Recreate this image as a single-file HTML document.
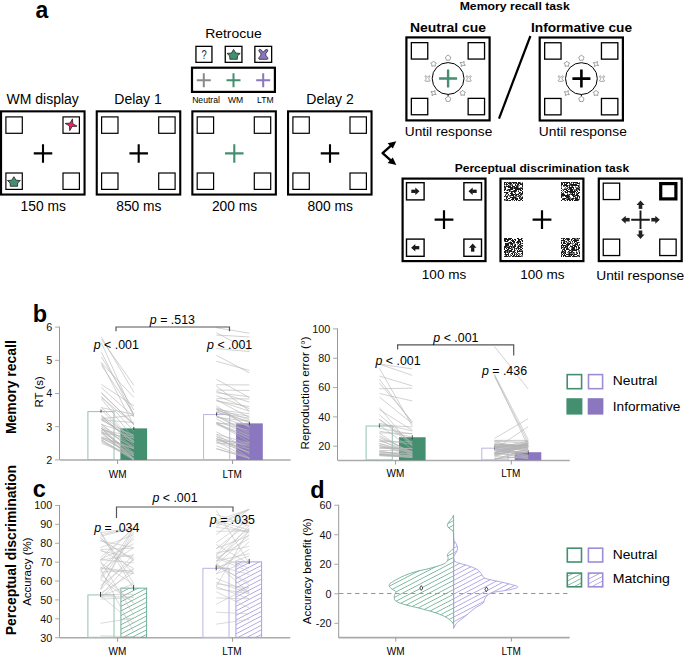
<!DOCTYPE html>
<html><head><meta charset="utf-8"><style>
html,body{margin:0;padding:0;background:#fff;}
svg{display:block;}
text{font-family:"Liberation Sans",sans-serif;}
</style></head><body>
<svg width="685" height="663" viewBox="0 0 685 663">
<defs>
<pattern id="hg" patternUnits="userSpaceOnUse" width="8" height="4.6" patternTransform="skewY(-27.5)"><line x1="0" y1="2.3" x2="8" y2="2.3" stroke="#6fb096" stroke-width="0.8"/></pattern>
<pattern id="hp" patternUnits="userSpaceOnUse" width="8" height="4.6" patternTransform="skewY(-27.5)"><line x1="0" y1="2.3" x2="8" y2="2.3" stroke="#ab9fe0" stroke-width="0.8"/></pattern>
</defs>
<text x="35.4" y="18.1" font-size="23" text-anchor="start" font-weight="bold" fill="#000" >a</text>
<text x="233.4" y="37.7" font-size="13" text-anchor="middle" font-weight="normal" fill="#000" textLength="56.5" lengthAdjust="spacingAndGlyphs" >Retrocue</text>
<rect x="195.95" y="46.35" width="16" height="16" fill="none" stroke="#000" stroke-width="1.3" />
<text x="204" y="58.6" font-size="12.5" text-anchor="middle" font-weight="normal" fill="#222" textLength="5.2" lengthAdjust="spacingAndGlyphs" >?</text>
<rect x="225.25" y="46.35" width="16.7" height="16" fill="none" stroke="#000" stroke-width="1.3" />
<rect x="254.85" y="46.35" width="16.8" height="16" fill="none" stroke="#000" stroke-width="1.3" />
<path transform="translate(233.6 54.5) scale(1.0)" d="M0 -5L2.2 -1.4L6.6 -1.1L3.9 1.4L3.7 4.8L-3.7 4.8L-3.9 1.4L-6.6 -1.1L-2.2 -1.4Z" fill="#438f70" stroke="#222" stroke-width="0.8" stroke-linejoin="round"/>
<path transform="translate(263.3 54.4) scale(1.0)" d="M0 -2.1C1 -3.5 2.5 -5.3 3.8 -5C5 -4.6 4.5 -2.8 2.6 -1.2C2.2 0 2.3 1 3.6 2.3C4.8 3.4 4.9 4.5 4 4.9L-4 4.9C-4.9 4.5 -4.8 3.4 -3.6 2.3C-2.3 1 -2.2 0 -2.6 -1.2C-4.5 -2.8 -5 -4.6 -3.8 -5C-2.5 -5.3 -1 -3.5 0 -2.1Z" fill="#8b76c0" stroke="#222" stroke-width="0.8" stroke-linejoin="round"/>
<rect x="192" y="67.7" width="82.9" height="24.2" fill="none" stroke="#000" stroke-width="2.2" />
<path d="M196.8 80.2H210.8M203.8 73.2V87.2" stroke="#8a8a8a" stroke-width="2" fill="none"/>
<path d="M226.5 80.2H240.5M233.5 73.2V87.2" stroke="#438f70" stroke-width="2" fill="none"/>
<path d="M256.2 80.2H270.2M263.2 73.2V87.2" stroke="#8b76c0" stroke-width="2" fill="none"/>
<text x="206" y="102.7" font-size="8.6" text-anchor="middle" font-weight="normal" fill="#000" >Neutral</text>
<text x="235.6" y="102.7" font-size="8.6" text-anchor="middle" font-weight="normal" fill="#000" >WM</text>
<text x="265.4" y="102.7" font-size="8.6" text-anchor="middle" font-weight="normal" fill="#000" >LTM</text>
<text x="42.7" y="104.4" font-size="14" text-anchor="middle" font-weight="normal" fill="#000" >WM display</text>
<text x="138" y="104.4" font-size="14" text-anchor="middle" font-weight="normal" fill="#000" >Delay 1</text>
<text x="330" y="104.4" font-size="14" text-anchor="middle" font-weight="normal" fill="#000" >Delay 2</text>
<rect x="1.05" y="111.35" width="83.5" height="83.2" fill="none" stroke="#000" stroke-width="2.1" />
<rect x="5.9" y="116.9" width="16.4" height="16.4" fill="none" stroke="#000" stroke-width="1.2" />
<rect x="63" y="116.9" width="16.4" height="16.4" fill="none" stroke="#000" stroke-width="1.2" />
<rect x="5.9" y="173" width="16.4" height="16.4" fill="none" stroke="#000" stroke-width="1.2" />
<rect x="63" y="173" width="16.4" height="16.4" fill="none" stroke="#000" stroke-width="1.2" />
<path d="M33.75 153.4H52.25M43 144.15V162.65" stroke="#000" stroke-width="2.1" fill="none"/>
<rect x="96.75" y="111.35" width="83.5" height="83.2" fill="none" stroke="#000" stroke-width="2.1" />
<rect x="101.6" y="116.9" width="16.4" height="16.4" fill="none" stroke="#000" stroke-width="1.2" />
<rect x="158.7" y="116.9" width="16.4" height="16.4" fill="none" stroke="#000" stroke-width="1.2" />
<rect x="101.6" y="173" width="16.4" height="16.4" fill="none" stroke="#000" stroke-width="1.2" />
<rect x="158.7" y="173" width="16.4" height="16.4" fill="none" stroke="#000" stroke-width="1.2" />
<path d="M129.45 153.4H147.95M138.7 144.15V162.65" stroke="#000" stroke-width="2.1" fill="none"/>
<rect x="192.35" y="111.35" width="83.5" height="83.2" fill="none" stroke="#000" stroke-width="2.1" />
<rect x="197.2" y="116.9" width="16.4" height="16.4" fill="none" stroke="#000" stroke-width="1.2" />
<rect x="254.3" y="116.9" width="16.4" height="16.4" fill="none" stroke="#000" stroke-width="1.2" />
<rect x="197.2" y="173" width="16.4" height="16.4" fill="none" stroke="#000" stroke-width="1.2" />
<rect x="254.3" y="173" width="16.4" height="16.4" fill="none" stroke="#000" stroke-width="1.2" />
<path d="M225.05 153.4H243.55M234.3 144.15V162.65" stroke="#438f70" stroke-width="2.1" fill="none"/>
<rect x="288.05" y="111.35" width="83.5" height="83.2" fill="none" stroke="#000" stroke-width="2.1" />
<rect x="292.9" y="116.9" width="16.4" height="16.4" fill="none" stroke="#000" stroke-width="1.2" />
<rect x="350" y="116.9" width="16.4" height="16.4" fill="none" stroke="#000" stroke-width="1.2" />
<rect x="292.9" y="173" width="16.4" height="16.4" fill="none" stroke="#000" stroke-width="1.2" />
<rect x="350" y="173" width="16.4" height="16.4" fill="none" stroke="#000" stroke-width="1.2" />
<path d="M320.75 153.4H339.25M330 144.15V162.65" stroke="#000" stroke-width="2.1" fill="none"/>
<path transform="translate(13.9 181.6) scale(0.98)" d="M0 -5L2.2 -1.4L6.6 -1.1L3.9 1.4L3.7 4.8L-3.7 4.8L-3.9 1.4L-6.6 -1.1L-2.2 -1.4Z" fill="#438f70" stroke="#222" stroke-width="0.82" stroke-linejoin="round"/>
<path d="M72.47 118.86L72.8 123.74L77.04 126.17L72.16 126.5L69.73 130.74L69.4 125.86L65.16 123.43L70.04 123.1Z" fill="#e8246c" stroke="#222" stroke-width="0.8" stroke-linejoin="round"/>
<text x="43.2" y="210.8" font-size="13.8" text-anchor="middle" font-weight="normal" fill="#000" >150 ms</text>
<text x="138.9" y="210.8" font-size="13.8" text-anchor="middle" font-weight="normal" fill="#000" >850 ms</text>
<text x="234.5" y="210.8" font-size="13.8" text-anchor="middle" font-weight="normal" fill="#000" >200 ms</text>
<text x="330.2" y="210.8" font-size="13.8" text-anchor="middle" font-weight="normal" fill="#000" >800 ms</text>
<path d="M393 143.8L382.6 153.1L393 162.4" fill="none" stroke="#000" stroke-width="2.4" stroke-linejoin="round"/>
<path d="M396.3 141.3L387.6 143.2L392.8 148.6Z" fill="#000"/>
<path d="M396.3 164.9L387.6 163L392.8 157.6Z" fill="#000"/>
<text x="514.7" y="9.5" font-size="11.5" text-anchor="middle" font-weight="bold" fill="#000" textLength="110" lengthAdjust="spacingAndGlyphs" >Memory recall task</text>
<text x="448" y="31.6" font-size="13" text-anchor="middle" font-weight="bold" fill="#000" textLength="76" lengthAdjust="spacingAndGlyphs" >Neutral cue</text>
<text x="581.5" y="31.6" font-size="13" text-anchor="middle" font-weight="bold" fill="#000" textLength="101" lengthAdjust="spacingAndGlyphs" >Informative cue</text>
<line x1="530.4" y1="36" x2="499" y2="118.6" stroke="#000" stroke-width="2.2" />
<rect x="406.4" y="37.4" width="83.2" height="83" fill="none" stroke="#000" stroke-width="2.2" />
<rect x="411.35" y="42.65" width="16.4" height="16.4" fill="none" stroke="#000" stroke-width="1.3" />
<rect x="468.15" y="42.65" width="16.4" height="16.4" fill="none" stroke="#000" stroke-width="1.3" />
<rect x="411.35" y="98.35" width="16.4" height="16.4" fill="none" stroke="#000" stroke-width="1.3" />
<rect x="468.15" y="98.35" width="16.4" height="16.4" fill="none" stroke="#000" stroke-width="1.3" />
<circle cx="448.1" cy="78.5" r="15.9" fill="none" stroke="#000" stroke-width="1"/>
<path d="M439.1 78.5H457.1M448.1 69.5V87.5" stroke="#438f70" stroke-width="2.4" fill="none"/>
<path transform="translate(468.7 78.5) scale(0.55)" d="M0 -2.1C1 -3.5 2.5 -5.3 3.8 -5C5 -4.6 4.5 -2.8 2.6 -1.2C2.2 0 2.3 1 3.6 2.3C4.8 3.4 4.9 4.5 4 4.9L-4 4.9C-4.9 4.5 -4.8 3.4 -3.6 2.3C-2.3 1 -2.2 0 -2.6 -1.2C-4.5 -2.8 -5 -4.6 -3.8 -5C-2.5 -5.3 -1 -3.5 0 -2.1Z" fill="#fff" stroke="#777" stroke-width="1.27" stroke-linejoin="round"/>
<path d="M462.67 90.17L463.78 91.53L465.42 92.17L464.47 93.65L464.37 95.41L462.67 94.97L460.96 95.41L460.86 93.65L459.91 92.17L461.55 91.53Z" fill="#fff" stroke="#777" stroke-width="0.7" stroke-linejoin="round"/>
<path d="M448.1 96.3L449.45 97.24L450.76 98.23L450.29 99.81L449.75 101.37L448.1 101.4L446.45 101.37L445.91 99.81L445.44 98.23L446.75 97.24Z" fill="#fff" stroke="#777" stroke-width="0.7" stroke-linejoin="round"/>
<path d="M435.03 90.47L434.89 92.7L436.13 94.57L433.9 94.42L432.03 95.66L432.18 93.43L430.94 91.57L433.17 91.71Z" fill="#fff" stroke="#777" stroke-width="0.7" stroke-linejoin="round"/>
<path transform="translate(427.5 78.5) scale(0.55)" d="M0 -2.1C1 -3.5 2.5 -5.3 3.8 -5C5 -4.6 4.5 -2.8 2.6 -1.2C2.2 0 2.3 1 3.6 2.3C4.8 3.4 4.9 4.5 4 4.9L-4 4.9C-4.9 4.5 -4.8 3.4 -3.6 2.3C-2.3 1 -2.2 0 -2.6 -1.2C-4.5 -2.8 -5 -4.6 -3.8 -5C-2.5 -5.3 -1 -3.5 0 -2.1Z" fill="#fff" stroke="#777" stroke-width="1.27" stroke-linejoin="round"/>
<path d="M433.53 61.03L434.65 62.4L436.29 63.04L435.34 64.52L435.24 66.28L433.53 65.83L431.83 66.28L431.73 64.52L430.78 63.04L432.42 62.4Z" fill="#fff" stroke="#777" stroke-width="0.7" stroke-linejoin="round"/>
<path d="M448.1 55.1L449.45 56.04L450.76 57.03L450.29 58.61L449.75 60.17L448.1 60.2L446.45 60.17L445.91 58.61L445.44 57.03L446.75 56.04Z" fill="#fff" stroke="#777" stroke-width="0.7" stroke-linejoin="round"/>
<path d="M464.17 61.34L464.02 63.57L465.26 65.43L463.03 65.29L461.17 66.53L461.31 64.3L460.07 62.43L462.3 62.58Z" fill="#fff" stroke="#777" stroke-width="0.7" stroke-linejoin="round"/>
<line x1="448.1" y1="94.4" x2="448.1" y2="96.1" stroke="#000" stroke-width="1" />
<rect x="539.7" y="37.5" width="83.2" height="83" fill="none" stroke="#000" stroke-width="2.2" />
<rect x="544.65" y="42.75" width="16.4" height="16.4" fill="none" stroke="#000" stroke-width="1.3" />
<rect x="601.45" y="42.75" width="16.4" height="16.4" fill="none" stroke="#000" stroke-width="1.3" />
<rect x="544.65" y="98.45" width="16.4" height="16.4" fill="none" stroke="#000" stroke-width="1.3" />
<rect x="601.45" y="98.45" width="16.4" height="16.4" fill="none" stroke="#000" stroke-width="1.3" />
<circle cx="581.4" cy="78.6" r="15.9" fill="none" stroke="#000" stroke-width="1"/>
<path d="M572.4 78.6H590.4M581.4 69.6V87.6" stroke="#000" stroke-width="2.6" fill="none"/>
<path transform="translate(602 78.6) scale(0.55)" d="M0 -2.1C1 -3.5 2.5 -5.3 3.8 -5C5 -4.6 4.5 -2.8 2.6 -1.2C2.2 0 2.3 1 3.6 2.3C4.8 3.4 4.9 4.5 4 4.9L-4 4.9C-4.9 4.5 -4.8 3.4 -3.6 2.3C-2.3 1 -2.2 0 -2.6 -1.2C-4.5 -2.8 -5 -4.6 -3.8 -5C-2.5 -5.3 -1 -3.5 0 -2.1Z" fill="#fff" stroke="#777" stroke-width="1.27" stroke-linejoin="round"/>
<path d="M595.97 90.27L597.08 91.63L598.72 92.27L597.77 93.75L597.67 95.51L595.97 95.07L594.26 95.51L594.16 93.75L593.21 92.27L594.85 91.63Z" fill="#fff" stroke="#777" stroke-width="0.7" stroke-linejoin="round"/>
<path d="M581.4 96.4L582.75 97.34L584.06 98.33L583.59 99.91L583.05 101.47L581.4 101.5L579.75 101.47L579.21 99.91L578.74 98.33L580.05 97.34Z" fill="#fff" stroke="#777" stroke-width="0.7" stroke-linejoin="round"/>
<path d="M568.33 90.57L568.19 92.8L569.43 94.67L567.2 94.52L565.33 95.76L565.48 93.53L564.24 91.67L566.47 91.81Z" fill="#fff" stroke="#777" stroke-width="0.7" stroke-linejoin="round"/>
<path transform="translate(560.8 78.6) scale(0.55)" d="M0 -2.1C1 -3.5 2.5 -5.3 3.8 -5C5 -4.6 4.5 -2.8 2.6 -1.2C2.2 0 2.3 1 3.6 2.3C4.8 3.4 4.9 4.5 4 4.9L-4 4.9C-4.9 4.5 -4.8 3.4 -3.6 2.3C-2.3 1 -2.2 0 -2.6 -1.2C-4.5 -2.8 -5 -4.6 -3.8 -5C-2.5 -5.3 -1 -3.5 0 -2.1Z" fill="#fff" stroke="#777" stroke-width="1.27" stroke-linejoin="round"/>
<path d="M566.83 61.13L567.95 62.5L569.59 63.14L568.64 64.62L568.54 66.38L566.83 65.93L565.13 66.38L565.03 64.62L564.08 63.14L565.72 62.5Z" fill="#fff" stroke="#777" stroke-width="0.7" stroke-linejoin="round"/>
<path d="M581.4 55.2L582.75 56.14L584.06 57.13L583.59 58.71L583.05 60.27L581.4 60.3L579.75 60.27L579.21 58.71L578.74 57.13L580.05 56.14Z" fill="#fff" stroke="#777" stroke-width="0.7" stroke-linejoin="round"/>
<path d="M597.47 61.44L597.32 63.67L598.56 65.53L596.33 65.39L594.47 66.63L594.61 64.4L593.37 62.53L595.6 62.68Z" fill="#fff" stroke="#777" stroke-width="0.7" stroke-linejoin="round"/>
<line x1="581.4" y1="94.5" x2="581.4" y2="96.2" stroke="#000" stroke-width="1" />
<text x="448.5" y="135.9" font-size="13.5" text-anchor="middle" font-weight="normal" fill="#000" textLength="87.5" lengthAdjust="spacingAndGlyphs" >Until response</text>
<text x="582.8" y="135.9" font-size="13.5" text-anchor="middle" font-weight="normal" fill="#000" textLength="88" lengthAdjust="spacingAndGlyphs" >Until response</text>
<text x="541.9" y="171.6" font-size="11.5" text-anchor="middle" font-weight="bold" fill="#000" textLength="174.4" lengthAdjust="spacingAndGlyphs" >Perceptual discrimination task</text>
<rect x="402.6" y="178.6" width="82.9" height="82.5" fill="none" stroke="#000" stroke-width="2.2" />
<rect x="500.5" y="178.6" width="82.9" height="82.5" fill="none" stroke="#000" stroke-width="2.2" />
<rect x="598.8" y="178.6" width="82.9" height="82.5" fill="none" stroke="#000" stroke-width="2.2" />
<rect x="406.5" y="182.7" width="17.6" height="17.2" fill="none" stroke="#000" stroke-width="1.4" />
<g transform="translate(415.3 191.3) rotate(0)"><path d="M-4 0H0.5" stroke="#1a1a1a" stroke-width="3.3"/><path d="M4.2 0L0 -3.8L0 3.8Z" fill="#1a1a1a"/></g>
<rect x="463.9" y="182.7" width="17.6" height="17.2" fill="none" stroke="#000" stroke-width="1.4" />
<g transform="translate(472.7 191.3) rotate(180)"><path d="M-4 0H0.5" stroke="#1a1a1a" stroke-width="3.3"/><path d="M4.2 0L0 -3.8L0 3.8Z" fill="#1a1a1a"/></g>
<rect x="406.5" y="239.1" width="17.6" height="17.2" fill="none" stroke="#000" stroke-width="1.4" />
<g transform="translate(415.3 247.7) rotate(180)"><path d="M-4 0H0.5" stroke="#1a1a1a" stroke-width="3.3"/><path d="M4.2 0L0 -3.8L0 3.8Z" fill="#1a1a1a"/></g>
<rect x="463.9" y="239.1" width="17.6" height="17.2" fill="none" stroke="#000" stroke-width="1.4" />
<g transform="translate(472.7 247.7) rotate(-90)"><path d="M-4 0H0.5" stroke="#1a1a1a" stroke-width="3.3"/><path d="M4.2 0L0 -3.8L0 3.8Z" fill="#1a1a1a"/></g>
<path d="M434.6 219.6H453.4M444 210.2V229" stroke="#000" stroke-width="2.2" fill="none"/>
<path d="M504 182h1v1h-1zM505 182h1v1h-1zM507 182h1v1h-1zM509 182h1v1h-1zM510 182h1v1h-1zM512 182h1v1h-1zM513 182h1v1h-1zM514 182h1v1h-1zM515 182h1v1h-1zM516 182h1v1h-1zM518 182h1v1h-1zM519 182h1v1h-1zM504 183h1v1h-1zM506 183h1v1h-1zM508 183h1v1h-1zM509 183h1v1h-1zM510 183h1v1h-1zM511 183h1v1h-1zM513 183h1v1h-1zM516 183h1v1h-1zM518 183h1v1h-1zM519 183h1v1h-1zM520 183h1v1h-1zM522 183h1v1h-1zM504 184h1v1h-1zM506 184h1v1h-1zM507 184h1v1h-1zM510 184h1v1h-1zM515 184h1v1h-1zM517 184h1v1h-1zM518 184h1v1h-1zM520 184h1v1h-1zM521 184h1v1h-1zM522 184h1v1h-1zM508 185h1v1h-1zM512 185h1v1h-1zM515 185h1v1h-1zM517 185h1v1h-1zM522 185h1v1h-1zM504 186h1v1h-1zM506 186h1v1h-1zM507 186h1v1h-1zM508 186h1v1h-1zM509 186h1v1h-1zM510 186h1v1h-1zM512 186h1v1h-1zM513 186h1v1h-1zM514 186h1v1h-1zM516 186h1v1h-1zM517 186h1v1h-1zM522 186h1v1h-1zM504 187h1v1h-1zM505 187h1v1h-1zM508 187h1v1h-1zM509 187h1v1h-1zM510 187h1v1h-1zM511 187h1v1h-1zM512 187h1v1h-1zM514 187h1v1h-1zM515 187h1v1h-1zM516 187h1v1h-1zM517 187h1v1h-1zM505 188h1v1h-1zM510 188h1v1h-1zM511 188h1v1h-1zM512 188h1v1h-1zM514 188h1v1h-1zM515 188h1v1h-1zM516 188h1v1h-1zM517 188h1v1h-1zM518 188h1v1h-1zM519 188h1v1h-1zM520 188h1v1h-1zM521 188h1v1h-1zM522 188h1v1h-1zM504 189h1v1h-1zM505 189h1v1h-1zM508 189h1v1h-1zM509 189h1v1h-1zM510 189h1v1h-1zM511 189h1v1h-1zM512 189h1v1h-1zM515 189h1v1h-1zM516 189h1v1h-1zM517 189h1v1h-1zM518 189h1v1h-1zM519 189h1v1h-1zM520 189h1v1h-1zM522 189h1v1h-1zM504 190h1v1h-1zM507 190h1v1h-1zM509 190h1v1h-1zM514 190h1v1h-1zM515 190h1v1h-1zM516 190h1v1h-1zM520 190h1v1h-1zM521 190h1v1h-1zM509 191h1v1h-1zM511 191h1v1h-1zM512 191h1v1h-1zM513 191h1v1h-1zM514 191h1v1h-1zM515 191h1v1h-1zM518 191h1v1h-1zM522 191h1v1h-1zM504 192h1v1h-1zM505 192h1v1h-1zM506 192h1v1h-1zM507 192h1v1h-1zM511 192h1v1h-1zM514 192h1v1h-1zM519 192h1v1h-1zM520 192h1v1h-1zM522 192h1v1h-1zM506 193h1v1h-1zM507 193h1v1h-1zM510 193h1v1h-1zM511 193h1v1h-1zM512 193h1v1h-1zM515 193h1v1h-1zM519 193h1v1h-1zM521 193h1v1h-1zM522 193h1v1h-1zM508 194h1v1h-1zM511 194h1v1h-1zM512 194h1v1h-1zM513 194h1v1h-1zM514 194h1v1h-1zM516 194h1v1h-1zM517 194h1v1h-1zM518 194h1v1h-1zM520 194h1v1h-1zM521 194h1v1h-1zM505 195h1v1h-1zM510 195h1v1h-1zM511 195h1v1h-1zM512 195h1v1h-1zM513 195h1v1h-1zM515 195h1v1h-1zM516 195h1v1h-1zM519 195h1v1h-1zM504 196h1v1h-1zM506 196h1v1h-1zM507 196h1v1h-1zM513 196h1v1h-1zM518 196h1v1h-1zM520 196h1v1h-1zM506 197h1v1h-1zM510 197h1v1h-1zM511 197h1v1h-1zM512 197h1v1h-1zM513 197h1v1h-1zM514 197h1v1h-1zM515 197h1v1h-1zM519 197h1v1h-1zM522 197h1v1h-1zM506 198h1v1h-1zM508 198h1v1h-1zM509 198h1v1h-1zM512 198h1v1h-1zM513 198h1v1h-1zM515 198h1v1h-1zM516 198h1v1h-1zM517 198h1v1h-1zM519 198h1v1h-1zM521 198h1v1h-1zM522 198h1v1h-1zM504 199h1v1h-1zM507 199h1v1h-1zM511 199h1v1h-1zM512 199h1v1h-1zM513 199h1v1h-1zM515 199h1v1h-1zM516 199h1v1h-1zM517 199h1v1h-1zM520 199h1v1h-1zM521 199h1v1h-1zM506 200h1v1h-1zM507 200h1v1h-1zM509 200h1v1h-1zM510 200h1v1h-1zM514 200h1v1h-1zM516 200h1v1h-1zM518 200h1v1h-1zM519 200h1v1h-1zM522 200h1v1h-1z" fill="#1a1a1a"/>
<path d="M506 182h1v1h-1zM508 182h1v1h-1zM511 182h1v1h-1zM520 182h1v1h-1zM522 182h1v1h-1zM514 183h1v1h-1zM515 183h1v1h-1zM517 183h1v1h-1zM521 183h1v1h-1zM505 184h1v1h-1zM509 184h1v1h-1zM511 184h1v1h-1zM512 184h1v1h-1zM504 185h1v1h-1zM506 185h1v1h-1zM509 185h1v1h-1zM510 185h1v1h-1zM511 185h1v1h-1zM516 185h1v1h-1zM518 185h1v1h-1zM519 185h1v1h-1zM505 186h1v1h-1zM518 186h1v1h-1zM513 187h1v1h-1zM518 187h1v1h-1zM520 187h1v1h-1zM521 187h1v1h-1zM522 187h1v1h-1zM504 188h1v1h-1zM513 188h1v1h-1zM507 189h1v1h-1zM506 190h1v1h-1zM508 190h1v1h-1zM510 190h1v1h-1zM513 190h1v1h-1zM518 190h1v1h-1zM510 191h1v1h-1zM516 191h1v1h-1zM508 192h1v1h-1zM512 192h1v1h-1zM515 192h1v1h-1zM518 193h1v1h-1zM520 193h1v1h-1zM505 194h1v1h-1zM506 194h1v1h-1zM515 194h1v1h-1zM522 194h1v1h-1zM507 195h1v1h-1zM508 195h1v1h-1zM509 195h1v1h-1zM518 195h1v1h-1zM520 195h1v1h-1zM521 195h1v1h-1zM505 196h1v1h-1zM509 196h1v1h-1zM510 196h1v1h-1zM514 196h1v1h-1zM515 196h1v1h-1zM516 196h1v1h-1zM517 196h1v1h-1zM519 196h1v1h-1zM522 196h1v1h-1zM507 197h1v1h-1zM516 197h1v1h-1zM520 197h1v1h-1zM521 197h1v1h-1zM514 198h1v1h-1zM520 198h1v1h-1zM505 199h1v1h-1zM506 199h1v1h-1zM504 200h1v1h-1zM505 200h1v1h-1zM508 200h1v1h-1zM512 200h1v1h-1zM520 200h1v1h-1z" fill="#7a7a7a"/>
<path d="M561 182h1v1h-1zM563 182h1v1h-1zM564 182h1v1h-1zM565 182h1v1h-1zM566 182h1v1h-1zM567 182h1v1h-1zM568 182h1v1h-1zM569 182h1v1h-1zM571 182h1v1h-1zM573 182h1v1h-1zM574 182h1v1h-1zM575 182h1v1h-1zM576 182h1v1h-1zM577 182h1v1h-1zM561 183h1v1h-1zM562 183h1v1h-1zM564 183h1v1h-1zM566 183h1v1h-1zM567 183h1v1h-1zM569 183h1v1h-1zM573 183h1v1h-1zM577 183h1v1h-1zM578 183h1v1h-1zM579 183h1v1h-1zM561 184h1v1h-1zM562 184h1v1h-1zM564 184h1v1h-1zM565 184h1v1h-1zM566 184h1v1h-1zM570 184h1v1h-1zM571 184h1v1h-1zM572 184h1v1h-1zM573 184h1v1h-1zM574 184h1v1h-1zM575 184h1v1h-1zM576 184h1v1h-1zM561 185h1v1h-1zM563 185h1v1h-1zM564 185h1v1h-1zM565 185h1v1h-1zM566 185h1v1h-1zM567 185h1v1h-1zM569 185h1v1h-1zM571 185h1v1h-1zM572 185h1v1h-1zM573 185h1v1h-1zM574 185h1v1h-1zM575 185h1v1h-1zM576 185h1v1h-1zM577 185h1v1h-1zM578 185h1v1h-1zM566 186h1v1h-1zM567 186h1v1h-1zM569 186h1v1h-1zM572 186h1v1h-1zM578 186h1v1h-1zM569 187h1v1h-1zM570 187h1v1h-1zM571 187h1v1h-1zM572 187h1v1h-1zM573 187h1v1h-1zM579 187h1v1h-1zM561 188h1v1h-1zM567 188h1v1h-1zM569 188h1v1h-1zM570 188h1v1h-1zM571 188h1v1h-1zM573 188h1v1h-1zM576 188h1v1h-1zM577 188h1v1h-1zM578 188h1v1h-1zM564 189h1v1h-1zM565 189h1v1h-1zM566 189h1v1h-1zM568 189h1v1h-1zM570 189h1v1h-1zM571 189h1v1h-1zM572 189h1v1h-1zM576 189h1v1h-1zM578 189h1v1h-1zM579 189h1v1h-1zM561 190h1v1h-1zM563 190h1v1h-1zM566 190h1v1h-1zM567 190h1v1h-1zM570 190h1v1h-1zM571 190h1v1h-1zM572 190h1v1h-1zM574 190h1v1h-1zM576 190h1v1h-1zM579 190h1v1h-1zM565 191h1v1h-1zM567 191h1v1h-1zM568 191h1v1h-1zM569 191h1v1h-1zM570 191h1v1h-1zM571 191h1v1h-1zM572 191h1v1h-1zM573 191h1v1h-1zM574 191h1v1h-1zM575 191h1v1h-1zM577 191h1v1h-1zM561 192h1v1h-1zM565 192h1v1h-1zM566 192h1v1h-1zM567 192h1v1h-1zM570 192h1v1h-1zM571 192h1v1h-1zM572 192h1v1h-1zM573 192h1v1h-1zM574 192h1v1h-1zM576 192h1v1h-1zM578 192h1v1h-1zM579 192h1v1h-1zM562 193h1v1h-1zM563 193h1v1h-1zM572 193h1v1h-1zM574 193h1v1h-1zM577 193h1v1h-1zM578 193h1v1h-1zM561 194h1v1h-1zM562 194h1v1h-1zM563 194h1v1h-1zM564 194h1v1h-1zM567 194h1v1h-1zM569 194h1v1h-1zM571 194h1v1h-1zM572 194h1v1h-1zM573 194h1v1h-1zM574 194h1v1h-1zM576 194h1v1h-1zM577 194h1v1h-1zM561 195h1v1h-1zM562 195h1v1h-1zM563 195h1v1h-1zM564 195h1v1h-1zM565 195h1v1h-1zM566 195h1v1h-1zM567 195h1v1h-1zM568 195h1v1h-1zM572 195h1v1h-1zM573 195h1v1h-1zM575 195h1v1h-1zM576 195h1v1h-1zM577 195h1v1h-1zM578 195h1v1h-1zM561 196h1v1h-1zM565 196h1v1h-1zM566 196h1v1h-1zM567 196h1v1h-1zM568 196h1v1h-1zM569 196h1v1h-1zM573 196h1v1h-1zM574 196h1v1h-1zM577 196h1v1h-1zM579 196h1v1h-1zM561 197h1v1h-1zM566 197h1v1h-1zM567 197h1v1h-1zM568 197h1v1h-1zM575 197h1v1h-1zM577 197h1v1h-1zM579 197h1v1h-1zM563 198h1v1h-1zM564 198h1v1h-1zM565 198h1v1h-1zM568 198h1v1h-1zM569 198h1v1h-1zM572 198h1v1h-1zM573 198h1v1h-1zM575 198h1v1h-1zM576 198h1v1h-1zM577 198h1v1h-1zM562 199h1v1h-1zM563 199h1v1h-1zM564 199h1v1h-1zM567 199h1v1h-1zM568 199h1v1h-1zM569 199h1v1h-1zM571 199h1v1h-1zM572 199h1v1h-1zM575 199h1v1h-1zM576 199h1v1h-1zM577 199h1v1h-1zM578 199h1v1h-1zM561 200h1v1h-1zM565 200h1v1h-1zM567 200h1v1h-1zM569 200h1v1h-1zM570 200h1v1h-1zM572 200h1v1h-1zM574 200h1v1h-1zM575 200h1v1h-1zM576 200h1v1h-1zM577 200h1v1h-1z" fill="#1a1a1a"/>
<path d="M562 182h1v1h-1zM572 182h1v1h-1zM579 182h1v1h-1zM570 183h1v1h-1zM571 183h1v1h-1zM575 183h1v1h-1zM576 183h1v1h-1zM569 184h1v1h-1zM579 184h1v1h-1zM568 185h1v1h-1zM570 185h1v1h-1zM579 185h1v1h-1zM561 186h1v1h-1zM563 186h1v1h-1zM564 186h1v1h-1zM571 186h1v1h-1zM575 186h1v1h-1zM579 186h1v1h-1zM561 187h1v1h-1zM565 187h1v1h-1zM567 187h1v1h-1zM568 187h1v1h-1zM575 187h1v1h-1zM576 187h1v1h-1zM577 187h1v1h-1zM578 187h1v1h-1zM564 188h1v1h-1zM565 188h1v1h-1zM566 188h1v1h-1zM579 188h1v1h-1zM562 189h1v1h-1zM563 189h1v1h-1zM569 189h1v1h-1zM573 189h1v1h-1zM574 189h1v1h-1zM575 189h1v1h-1zM577 189h1v1h-1zM575 190h1v1h-1zM577 190h1v1h-1zM562 191h1v1h-1zM564 191h1v1h-1zM563 192h1v1h-1zM569 192h1v1h-1zM561 193h1v1h-1zM567 193h1v1h-1zM570 193h1v1h-1zM571 193h1v1h-1zM576 193h1v1h-1zM568 194h1v1h-1zM570 194h1v1h-1zM569 195h1v1h-1zM574 195h1v1h-1zM562 196h1v1h-1zM563 196h1v1h-1zM575 196h1v1h-1zM578 196h1v1h-1zM569 197h1v1h-1zM570 197h1v1h-1zM573 197h1v1h-1zM576 197h1v1h-1zM562 198h1v1h-1zM566 198h1v1h-1zM567 198h1v1h-1zM570 198h1v1h-1zM571 198h1v1h-1zM574 198h1v1h-1zM579 198h1v1h-1zM566 199h1v1h-1zM570 199h1v1h-1zM573 199h1v1h-1zM579 199h1v1h-1zM564 200h1v1h-1zM578 200h1v1h-1z" fill="#7a7a7a"/>
<path d="M504 238h1v1h-1zM505 238h1v1h-1zM506 238h1v1h-1zM508 238h1v1h-1zM509 238h1v1h-1zM510 238h1v1h-1zM511 238h1v1h-1zM517 238h1v1h-1zM518 238h1v1h-1zM521 238h1v1h-1zM504 239h1v1h-1zM505 239h1v1h-1zM506 239h1v1h-1zM507 239h1v1h-1zM508 239h1v1h-1zM509 239h1v1h-1zM510 239h1v1h-1zM512 239h1v1h-1zM514 239h1v1h-1zM515 239h1v1h-1zM518 239h1v1h-1zM519 239h1v1h-1zM520 239h1v1h-1zM521 239h1v1h-1zM504 240h1v1h-1zM505 240h1v1h-1zM507 240h1v1h-1zM508 240h1v1h-1zM511 240h1v1h-1zM512 240h1v1h-1zM513 240h1v1h-1zM515 240h1v1h-1zM518 240h1v1h-1zM519 240h1v1h-1zM522 240h1v1h-1zM505 241h1v1h-1zM506 241h1v1h-1zM507 241h1v1h-1zM512 241h1v1h-1zM513 241h1v1h-1zM514 241h1v1h-1zM517 241h1v1h-1zM518 241h1v1h-1zM519 241h1v1h-1zM520 241h1v1h-1zM522 241h1v1h-1zM509 242h1v1h-1zM510 242h1v1h-1zM511 242h1v1h-1zM513 242h1v1h-1zM514 242h1v1h-1zM516 242h1v1h-1zM517 242h1v1h-1zM518 242h1v1h-1zM520 242h1v1h-1zM505 243h1v1h-1zM506 243h1v1h-1zM507 243h1v1h-1zM508 243h1v1h-1zM510 243h1v1h-1zM511 243h1v1h-1zM512 243h1v1h-1zM518 243h1v1h-1zM520 243h1v1h-1zM522 243h1v1h-1zM505 244h1v1h-1zM506 244h1v1h-1zM507 244h1v1h-1zM508 244h1v1h-1zM511 244h1v1h-1zM512 244h1v1h-1zM515 244h1v1h-1zM519 244h1v1h-1zM520 244h1v1h-1zM505 245h1v1h-1zM506 245h1v1h-1zM507 245h1v1h-1zM508 245h1v1h-1zM512 245h1v1h-1zM514 245h1v1h-1zM515 245h1v1h-1zM518 245h1v1h-1zM521 245h1v1h-1zM522 245h1v1h-1zM504 246h1v1h-1zM505 246h1v1h-1zM506 246h1v1h-1zM509 246h1v1h-1zM510 246h1v1h-1zM511 246h1v1h-1zM513 246h1v1h-1zM514 246h1v1h-1zM515 246h1v1h-1zM518 246h1v1h-1zM519 246h1v1h-1zM520 246h1v1h-1zM504 247h1v1h-1zM505 247h1v1h-1zM507 247h1v1h-1zM508 247h1v1h-1zM509 247h1v1h-1zM511 247h1v1h-1zM513 247h1v1h-1zM514 247h1v1h-1zM517 247h1v1h-1zM518 247h1v1h-1zM520 247h1v1h-1zM521 247h1v1h-1zM504 248h1v1h-1zM506 248h1v1h-1zM508 248h1v1h-1zM509 248h1v1h-1zM510 248h1v1h-1zM514 248h1v1h-1zM516 248h1v1h-1zM518 248h1v1h-1zM519 248h1v1h-1zM522 248h1v1h-1zM504 249h1v1h-1zM507 249h1v1h-1zM508 249h1v1h-1zM511 249h1v1h-1zM512 249h1v1h-1zM514 249h1v1h-1zM518 249h1v1h-1zM520 249h1v1h-1zM521 249h1v1h-1zM505 250h1v1h-1zM506 250h1v1h-1zM507 250h1v1h-1zM509 250h1v1h-1zM510 250h1v1h-1zM511 250h1v1h-1zM514 250h1v1h-1zM517 250h1v1h-1zM519 250h1v1h-1zM504 251h1v1h-1zM505 251h1v1h-1zM507 251h1v1h-1zM509 251h1v1h-1zM510 251h1v1h-1zM511 251h1v1h-1zM513 251h1v1h-1zM514 251h1v1h-1zM517 251h1v1h-1zM518 251h1v1h-1zM519 251h1v1h-1zM520 251h1v1h-1zM521 251h1v1h-1zM522 251h1v1h-1zM504 252h1v1h-1zM505 252h1v1h-1zM507 252h1v1h-1zM509 252h1v1h-1zM513 252h1v1h-1zM515 252h1v1h-1zM517 252h1v1h-1zM522 252h1v1h-1zM505 253h1v1h-1zM508 253h1v1h-1zM511 253h1v1h-1zM512 253h1v1h-1zM514 253h1v1h-1zM516 253h1v1h-1zM518 253h1v1h-1zM521 253h1v1h-1zM522 253h1v1h-1zM505 254h1v1h-1zM506 254h1v1h-1zM507 254h1v1h-1zM508 254h1v1h-1zM512 254h1v1h-1zM514 254h1v1h-1zM517 254h1v1h-1zM522 254h1v1h-1zM506 255h1v1h-1zM508 255h1v1h-1zM511 255h1v1h-1zM513 255h1v1h-1zM514 255h1v1h-1zM516 255h1v1h-1zM518 255h1v1h-1zM504 256h1v1h-1zM505 256h1v1h-1zM506 256h1v1h-1zM507 256h1v1h-1zM509 256h1v1h-1zM512 256h1v1h-1zM513 256h1v1h-1zM515 256h1v1h-1zM516 256h1v1h-1zM517 256h1v1h-1zM518 256h1v1h-1zM519 256h1v1h-1zM520 256h1v1h-1z" fill="#1a1a1a"/>
<path d="M522 238h1v1h-1zM521 240h1v1h-1zM504 241h1v1h-1zM510 241h1v1h-1zM508 242h1v1h-1zM519 242h1v1h-1zM509 243h1v1h-1zM513 243h1v1h-1zM514 243h1v1h-1zM517 243h1v1h-1zM521 243h1v1h-1zM510 244h1v1h-1zM514 244h1v1h-1zM517 244h1v1h-1zM510 245h1v1h-1zM519 245h1v1h-1zM520 245h1v1h-1zM507 246h1v1h-1zM508 246h1v1h-1zM512 246h1v1h-1zM517 246h1v1h-1zM521 246h1v1h-1zM522 246h1v1h-1zM506 247h1v1h-1zM512 247h1v1h-1zM511 248h1v1h-1zM512 248h1v1h-1zM515 248h1v1h-1zM517 248h1v1h-1zM520 248h1v1h-1zM516 249h1v1h-1zM508 250h1v1h-1zM515 250h1v1h-1zM520 250h1v1h-1zM521 250h1v1h-1zM522 250h1v1h-1zM506 251h1v1h-1zM508 251h1v1h-1zM512 251h1v1h-1zM506 252h1v1h-1zM508 252h1v1h-1zM512 252h1v1h-1zM514 252h1v1h-1zM519 253h1v1h-1zM504 254h1v1h-1zM510 254h1v1h-1zM515 254h1v1h-1zM516 254h1v1h-1zM519 254h1v1h-1zM520 254h1v1h-1zM505 255h1v1h-1zM510 255h1v1h-1zM519 255h1v1h-1zM521 255h1v1h-1zM522 255h1v1h-1zM508 256h1v1h-1zM510 256h1v1h-1zM514 256h1v1h-1zM521 256h1v1h-1zM522 256h1v1h-1z" fill="#7a7a7a"/>
<path d="M561 238h1v1h-1zM563 238h1v1h-1zM564 238h1v1h-1zM566 238h1v1h-1zM567 238h1v1h-1zM568 238h1v1h-1zM572 238h1v1h-1zM573 238h1v1h-1zM574 238h1v1h-1zM577 238h1v1h-1zM579 238h1v1h-1zM563 239h1v1h-1zM565 239h1v1h-1zM567 239h1v1h-1zM568 239h1v1h-1zM569 239h1v1h-1zM571 239h1v1h-1zM574 239h1v1h-1zM575 239h1v1h-1zM561 240h1v1h-1zM562 240h1v1h-1zM563 240h1v1h-1zM564 240h1v1h-1zM568 240h1v1h-1zM571 240h1v1h-1zM573 240h1v1h-1zM574 240h1v1h-1zM575 240h1v1h-1zM576 240h1v1h-1zM577 240h1v1h-1zM578 240h1v1h-1zM564 241h1v1h-1zM566 241h1v1h-1zM569 241h1v1h-1zM572 241h1v1h-1zM574 241h1v1h-1zM575 241h1v1h-1zM576 241h1v1h-1zM561 242h1v1h-1zM563 242h1v1h-1zM564 242h1v1h-1zM570 242h1v1h-1zM574 242h1v1h-1zM577 242h1v1h-1zM578 242h1v1h-1zM561 243h1v1h-1zM563 243h1v1h-1zM564 243h1v1h-1zM565 243h1v1h-1zM567 243h1v1h-1zM568 243h1v1h-1zM569 243h1v1h-1zM570 243h1v1h-1zM575 243h1v1h-1zM577 243h1v1h-1zM562 244h1v1h-1zM566 244h1v1h-1zM567 244h1v1h-1zM568 244h1v1h-1zM569 244h1v1h-1zM575 244h1v1h-1zM576 244h1v1h-1zM577 244h1v1h-1zM579 244h1v1h-1zM561 245h1v1h-1zM562 245h1v1h-1zM563 245h1v1h-1zM564 245h1v1h-1zM565 245h1v1h-1zM567 245h1v1h-1zM568 245h1v1h-1zM573 245h1v1h-1zM574 245h1v1h-1zM575 245h1v1h-1zM577 245h1v1h-1zM561 246h1v1h-1zM563 246h1v1h-1zM565 246h1v1h-1zM566 246h1v1h-1zM567 246h1v1h-1zM570 246h1v1h-1zM571 246h1v1h-1zM572 246h1v1h-1zM574 246h1v1h-1zM575 246h1v1h-1zM576 246h1v1h-1zM578 246h1v1h-1zM561 247h1v1h-1zM562 247h1v1h-1zM564 247h1v1h-1zM565 247h1v1h-1zM567 247h1v1h-1zM572 247h1v1h-1zM573 247h1v1h-1zM574 247h1v1h-1zM576 247h1v1h-1zM578 247h1v1h-1zM579 247h1v1h-1zM561 248h1v1h-1zM564 248h1v1h-1zM566 248h1v1h-1zM567 248h1v1h-1zM572 248h1v1h-1zM573 248h1v1h-1zM574 248h1v1h-1zM578 248h1v1h-1zM579 248h1v1h-1zM563 249h1v1h-1zM564 249h1v1h-1zM566 249h1v1h-1zM567 249h1v1h-1zM568 249h1v1h-1zM571 249h1v1h-1zM572 249h1v1h-1zM573 249h1v1h-1zM574 249h1v1h-1zM576 249h1v1h-1zM577 249h1v1h-1zM578 249h1v1h-1zM562 250h1v1h-1zM564 250h1v1h-1zM565 250h1v1h-1zM569 250h1v1h-1zM570 250h1v1h-1zM572 250h1v1h-1zM573 250h1v1h-1zM574 250h1v1h-1zM575 250h1v1h-1zM576 250h1v1h-1zM562 251h1v1h-1zM563 251h1v1h-1zM565 251h1v1h-1zM568 251h1v1h-1zM571 251h1v1h-1zM572 251h1v1h-1zM561 252h1v1h-1zM562 252h1v1h-1zM564 252h1v1h-1zM565 252h1v1h-1zM569 252h1v1h-1zM570 252h1v1h-1zM571 252h1v1h-1zM573 252h1v1h-1zM576 252h1v1h-1zM579 252h1v1h-1zM561 253h1v1h-1zM563 253h1v1h-1zM565 253h1v1h-1zM569 253h1v1h-1zM577 253h1v1h-1zM579 253h1v1h-1zM562 254h1v1h-1zM564 254h1v1h-1zM566 254h1v1h-1zM567 254h1v1h-1zM568 254h1v1h-1zM569 254h1v1h-1zM570 254h1v1h-1zM571 254h1v1h-1zM572 254h1v1h-1zM574 254h1v1h-1zM575 254h1v1h-1zM576 254h1v1h-1zM561 255h1v1h-1zM563 255h1v1h-1zM564 255h1v1h-1zM565 255h1v1h-1zM569 255h1v1h-1zM571 255h1v1h-1zM573 255h1v1h-1zM577 255h1v1h-1zM578 255h1v1h-1zM561 256h1v1h-1zM563 256h1v1h-1zM565 256h1v1h-1zM566 256h1v1h-1zM567 256h1v1h-1zM568 256h1v1h-1zM569 256h1v1h-1zM570 256h1v1h-1zM572 256h1v1h-1zM573 256h1v1h-1zM574 256h1v1h-1zM575 256h1v1h-1zM576 256h1v1h-1zM579 256h1v1h-1z" fill="#1a1a1a"/>
<path d="M562 238h1v1h-1zM569 238h1v1h-1zM575 238h1v1h-1zM576 238h1v1h-1zM578 238h1v1h-1zM566 239h1v1h-1zM572 239h1v1h-1zM576 239h1v1h-1zM577 239h1v1h-1zM578 239h1v1h-1zM567 240h1v1h-1zM561 241h1v1h-1zM563 241h1v1h-1zM565 241h1v1h-1zM568 241h1v1h-1zM570 241h1v1h-1zM566 242h1v1h-1zM567 242h1v1h-1zM568 242h1v1h-1zM572 242h1v1h-1zM576 242h1v1h-1zM579 242h1v1h-1zM571 243h1v1h-1zM572 243h1v1h-1zM573 243h1v1h-1zM576 243h1v1h-1zM572 244h1v1h-1zM574 244h1v1h-1zM566 245h1v1h-1zM570 245h1v1h-1zM572 245h1v1h-1zM578 245h1v1h-1zM579 245h1v1h-1zM563 247h1v1h-1zM566 247h1v1h-1zM569 247h1v1h-1zM571 247h1v1h-1zM563 248h1v1h-1zM568 248h1v1h-1zM571 248h1v1h-1zM576 248h1v1h-1zM562 249h1v1h-1zM569 249h1v1h-1zM575 249h1v1h-1zM571 250h1v1h-1zM578 250h1v1h-1zM579 250h1v1h-1zM561 251h1v1h-1zM564 251h1v1h-1zM569 251h1v1h-1zM576 251h1v1h-1zM578 251h1v1h-1zM579 251h1v1h-1zM563 252h1v1h-1zM567 252h1v1h-1zM568 252h1v1h-1zM572 252h1v1h-1zM574 252h1v1h-1zM577 252h1v1h-1zM564 253h1v1h-1zM568 253h1v1h-1zM570 253h1v1h-1zM571 253h1v1h-1zM572 253h1v1h-1zM573 253h1v1h-1zM574 253h1v1h-1zM576 253h1v1h-1zM561 254h1v1h-1zM573 254h1v1h-1zM579 254h1v1h-1zM568 255h1v1h-1zM570 255h1v1h-1zM574 255h1v1h-1zM579 255h1v1h-1zM577 256h1v1h-1zM578 256h1v1h-1z" fill="#7a7a7a"/>
<path d="M532.6 219.7H551.4M542 210.3V229.1" stroke="#000" stroke-width="2.2" fill="none"/>
<rect x="603.25" y="183.15" width="16.4" height="16.4" fill="none" stroke="#000" stroke-width="1.3" />
<rect x="603.25" y="239.15" width="16.4" height="16.4" fill="none" stroke="#000" stroke-width="1.3" />
<rect x="659.75" y="239.15" width="16.4" height="16.4" fill="none" stroke="#000" stroke-width="1.3" />
<rect x="660.7" y="183.6" width="15.2" height="15.3" fill="none" stroke="#000" stroke-width="3.2" />
<path d="M631.2 219.7H649.8M640.5 210.4V229" stroke="#1a1a1a" stroke-width="1.9" fill="none"/>
<g transform="translate(655.5 219.7) rotate(0)"><path d="M-4.2 0H0.5" stroke="#222" stroke-width="3.6"/><path d="M4.3 0L-0.2 -4L-0.2 4Z" fill="#222"/></g>
<g transform="translate(625.5 219.7) rotate(180)"><path d="M-4.2 0H0.5" stroke="#222" stroke-width="3.6"/><path d="M4.3 0L-0.2 -4L-0.2 4Z" fill="#222"/></g>
<g transform="translate(640.5 204.7) rotate(-90)"><path d="M-4.2 0H0.5" stroke="#222" stroke-width="3.6"/><path d="M4.3 0L-0.2 -4L-0.2 4Z" fill="#222"/></g>
<g transform="translate(640.5 234.7) rotate(90)"><path d="M-4.2 0H0.5" stroke="#222" stroke-width="3.6"/><path d="M4.3 0L-0.2 -4L-0.2 4Z" fill="#222"/></g>
<text x="444" y="279.4" font-size="13.5" text-anchor="middle" font-weight="normal" fill="#000" >100 ms</text>
<text x="542.4" y="279.4" font-size="13.5" text-anchor="middle" font-weight="normal" fill="#000" >100 ms</text>
<text x="640.2" y="279.6" font-size="13.5" text-anchor="middle" font-weight="normal" fill="#000" textLength="88" lengthAdjust="spacingAndGlyphs" >Until response</text>
<text x="32.7" y="322" font-size="23.5" text-anchor="start" font-weight="bold" fill="#000" >b</text>
<text x="310.2" y="498" font-size="23.5" text-anchor="start" font-weight="bold" fill="#000" >d</text>
<text x="32.7" y="497.4" font-size="23.5" text-anchor="start" font-weight="bold" fill="#000" >c</text>
<text transform="translate(16.3 434.1) rotate(-90)" font-size="14" font-weight="bold" textLength="94" lengthAdjust="spacingAndGlyphs">Memory recall</text>
<text transform="translate(15.8 635.3) rotate(-90)" font-size="14.6" font-weight="bold" textLength="170.3" lengthAdjust="spacingAndGlyphs">Perceptual discrimination</text>
<line x1="59.5" y1="326.6" x2="59.5" y2="459.9" stroke="#8c8c8c" stroke-width="0.9" />
<line x1="55.1" y1="459.9" x2="59.5" y2="459.9" stroke="#a8a8a8" stroke-width="1" />
<text x="52.2" y="463.8" font-size="10.8" text-anchor="end" font-weight="normal" fill="#111" >2</text>
<line x1="55.1" y1="426.7" x2="59.5" y2="426.7" stroke="#a8a8a8" stroke-width="1" />
<text x="52.2" y="430.6" font-size="10.8" text-anchor="end" font-weight="normal" fill="#111" >3</text>
<line x1="55.1" y1="393.5" x2="59.5" y2="393.5" stroke="#a8a8a8" stroke-width="1" />
<text x="52.2" y="397.4" font-size="10.8" text-anchor="end" font-weight="normal" fill="#111" >4</text>
<line x1="55.1" y1="360.3" x2="59.5" y2="360.3" stroke="#a8a8a8" stroke-width="1" />
<text x="52.2" y="364.2" font-size="10.8" text-anchor="end" font-weight="normal" fill="#111" >5</text>
<line x1="55.1" y1="327.1" x2="59.5" y2="327.1" stroke="#a8a8a8" stroke-width="1" />
<text x="52.2" y="331" font-size="10.8" text-anchor="end" font-weight="normal" fill="#111" >6</text>
<text transform="translate(42.8 407.4) rotate(-90)" font-size="11.4">RT (s)</text>
<line x1="60" y1="460" x2="290.7" y2="460" stroke="#aaa" stroke-width="1.6" />
<line x1="117.6" y1="460" x2="117.6" y2="464" stroke="#9a9a9a" stroke-width="1" />
<line x1="232.6" y1="460" x2="232.6" y2="464" stroke="#9a9a9a" stroke-width="1" />
<text x="117.7" y="477.5" font-size="10" text-anchor="middle" font-weight="normal" fill="#000" >WM</text>
<text x="232.2" y="477.5" font-size="10" text-anchor="middle" font-weight="normal" fill="#000" >LTM</text>
<rect x="87.9" y="411.6" width="26.1" height="47.9" fill="#fff" stroke="#93c4b0" stroke-width="1" />
<rect x="120.4" y="428.36" width="26.7" height="31.64" fill="#438f70"/>
<rect x="203.6" y="414.58" width="26.1" height="44.92" fill="#fff" stroke="#bdb3e3" stroke-width="1" />
<rect x="236.1" y="423.38" width="26.7" height="36.62" fill="#8b76c0"/>
<path d="M101.4 420.48L133.9 435.44M101.4 415.84L133.9 445.07M101.4 433.54L133.9 459.9M101.4 432.43L133.9 459.9M101.4 407.67L133.9 414.41M101.4 396.34L133.9 431.12M101.4 415.39L133.9 438.27M101.4 436.9L133.9 448.12M101.4 428.13L133.9 459.9M101.4 416.61L133.9 442.71M101.4 418.78L133.9 415.25M101.4 337.06L133.9 392.38M101.4 424.55L133.9 446.99M101.4 393.43L133.9 423.85M101.4 384.48L133.9 405.84M101.4 365.29L133.9 413.67M101.4 362.84L133.9 397.47M101.4 397.55L133.9 424.29M101.4 433.07L133.9 437.87M101.4 430.97L133.9 453.33M101.4 398.81L133.9 438.68M101.4 439.81L133.9 458.97M101.4 438.7L133.9 448.54M101.4 428.51L133.9 442.87M101.4 443.25L133.9 455.78M101.4 339.32L133.9 385.32M101.4 428.35L133.9 447.52M101.4 423.98L133.9 453.2M101.4 438.13L133.9 454.14M101.4 424.41L133.9 434.88M101.4 352.29L133.9 416.28M101.4 428.08L133.9 455.93M101.4 426.44L133.9 448.7M101.4 342.78L133.9 415.19M101.4 419.78L133.9 422.6M101.4 437.01L133.9 448.81M101.4 441.52L133.9 459.9M101.4 439.87L133.9 459.66M101.4 431.98L133.9 459.9M101.4 409.77L133.9 442.97M101.4 387.64L133.9 416.8M101.4 418.73L133.9 441.93M101.4 431.09L133.9 454.24M101.4 440.71L133.9 458.17M101.4 392.32L133.9 424.82M101.4 419.02L133.9 441.08M101.4 437.61L133.9 455.77M101.4 362.52L133.9 425.52M101.4 430.22L133.9 436.09M101.4 428.56L133.9 458.51M101.4 356.85L133.9 410M101.4 407.19L133.9 441.21" stroke="#b4b4b4" stroke-width="0.6" fill="none"/>
<path d="M216.4 448.78L249.4 458.24M216.4 400.17L249.4 411.22M216.4 384.76L249.4 384.94M216.4 422.77L249.4 439.02M216.4 398.6L249.4 398.98M216.4 440.82L249.4 442.6M216.4 434.57L249.4 454.28M216.4 439.07L249.4 445.25M216.4 438.66L249.4 452.52M216.4 379.31L249.4 397.61M216.4 415.77L249.4 432.49M216.4 431.88L249.4 449.37M216.4 424.61L249.4 437.76M216.4 408.53L249.4 426.84M216.4 448.61L249.4 458.24M216.4 391.37L249.4 402.17M216.4 445.84L249.4 458.24M216.4 423.7L249.4 435.75M216.4 395.71L249.4 408.63M216.4 409.45L249.4 422.67M216.4 399.91L249.4 417.44M216.4 409.63L249.4 413.68M216.4 423.01L249.4 442.12M216.4 407.76L249.4 419.88M216.4 434.27L249.4 443.28M216.4 392.73L249.4 396.74M216.4 438.51L249.4 452.49M216.4 441.98L249.4 452.02M216.4 327.76L249.4 333.23M216.4 355.25L249.4 372.89M216.4 411.99L249.4 421.46M216.4 390.03L249.4 390.49M216.4 412.77L249.4 418.15M216.4 386.11L249.4 410.9M216.4 443.22L249.4 444.05M216.4 422.25L249.4 430.34M216.4 400.93L249.4 406.6M216.4 436.31L249.4 457.99M216.4 418.89L249.4 435.95M216.4 348.51L249.4 351.55M216.4 440.21L249.4 449.15M216.4 405.83L249.4 427.83M216.4 361.25L249.4 370.41M216.4 332.69L249.4 350.34M216.4 417.32L249.4 421.29M216.4 416.46L249.4 426.33M216.4 335.02L249.4 336.96M216.4 415.67L249.4 434.26M216.4 411.18L249.4 416.13M216.4 436.72L249.4 446.68M216.4 441.62L249.4 458.24M216.4 423.19L249.4 424.64" stroke="#b4b4b4" stroke-width="0.6" fill="none"/>
<line x1="101" y1="409.6" x2="101" y2="412.6" stroke="#333" stroke-width="0.9" />
<line x1="133.8" y1="426.86" x2="133.8" y2="429.86" stroke="#333" stroke-width="0.9" />
<line x1="216.6" y1="412.58" x2="216.6" y2="415.58" stroke="#333" stroke-width="0.9" />
<line x1="249.4" y1="421.88" x2="249.4" y2="424.88" stroke="#333" stroke-width="0.9" />
<path d="M116 331.3V327H229.5V331.3" fill="none" stroke="#555" stroke-width="1.2"/>
<text x="149.8" y="323.9" font-size="12.4"><tspan font-style="italic">p</tspan> = .513</text>
<text x="93.7" y="349" font-size="12.4"><tspan font-style="italic">p</tspan> &lt; .001</text>
<text x="207.1" y="349" font-size="12.4"><tspan font-style="italic">p</tspan> &lt; .001</text>
<line x1="337.5" y1="328.42" x2="337.5" y2="460.3" stroke="#8c8c8c" stroke-width="0.9" />
<line x1="333.1" y1="446.2" x2="337.5" y2="446.2" stroke="#a8a8a8" stroke-width="1" />
<text x="330.2" y="450.1" font-size="10.8" text-anchor="end" font-weight="normal" fill="#111" >20</text>
<line x1="333.1" y1="416.88" x2="337.5" y2="416.88" stroke="#a8a8a8" stroke-width="1" />
<text x="330.2" y="420.78" font-size="10.8" text-anchor="end" font-weight="normal" fill="#111" >40</text>
<line x1="333.1" y1="387.56" x2="337.5" y2="387.56" stroke="#a8a8a8" stroke-width="1" />
<text x="330.2" y="391.46" font-size="10.8" text-anchor="end" font-weight="normal" fill="#111" >60</text>
<line x1="333.1" y1="358.24" x2="337.5" y2="358.24" stroke="#a8a8a8" stroke-width="1" />
<text x="330.2" y="362.14" font-size="10.8" text-anchor="end" font-weight="normal" fill="#111" >80</text>
<line x1="333.1" y1="328.92" x2="337.5" y2="328.92" stroke="#a8a8a8" stroke-width="1" />
<text x="330.2" y="332.82" font-size="10.8" text-anchor="end" font-weight="normal" fill="#111" >100</text>
<text transform="translate(309.3 449.5) rotate(-90)" font-size="11.4" textLength="113" lengthAdjust="spacingAndGlyphs">Reproduction error (°)</text>
<line x1="337.5" y1="460.5" x2="569.8" y2="460.5" stroke="#aaa" stroke-width="1.6" />
<line x1="395.6" y1="460.5" x2="395.6" y2="464.5" stroke="#9a9a9a" stroke-width="1" />
<line x1="511.3" y1="460.5" x2="511.3" y2="464.5" stroke="#9a9a9a" stroke-width="1" />
<text x="395.4" y="477.3" font-size="10" text-anchor="middle" font-weight="normal" fill="#000" >WM</text>
<text x="510.8" y="477.3" font-size="10" text-anchor="middle" font-weight="normal" fill="#000" >LTM</text>
<rect x="366.1" y="426.03" width="26.2" height="33.77" fill="#fff" stroke="#93c4b0" stroke-width="1" />
<rect x="399" y="437.26" width="26.6" height="23.04" fill="#438f70"/>
<rect x="481.8" y="448.17" width="26.2" height="11.63" fill="#fff" stroke="#bdb3e3" stroke-width="1" />
<rect x="514.7" y="452.21" width="26.6" height="8.09" fill="#8b76c0"/>
<line x1="379.4" y1="423.53" x2="379.4" y2="427.53" stroke="#333" stroke-width="0.9" />
<line x1="412.3" y1="435.26" x2="412.3" y2="439.26" stroke="#333" stroke-width="0.9" />
<line x1="494.5" y1="445.67" x2="494.5" y2="449.67" stroke="#333" stroke-width="0.9" />
<line x1="528.2" y1="450.21" x2="528.2" y2="454.21" stroke="#333" stroke-width="0.9" />
<path d="M379.4 432.85L412.3 433.49M379.4 388.76L412.3 388.17M379.4 455.04L412.3 456.27M379.4 431.17L412.3 436.97M379.4 440.88L412.3 451.43M379.4 435.72L412.3 452.95M379.4 448.04L412.3 448.59M379.4 451.65L412.3 454.67M379.4 433.19L412.3 454.94M379.4 407.62L412.3 446.69M379.4 364.1L412.3 375.34M379.4 379.34L412.3 422.93M379.4 450.35L412.3 451.17M379.4 376.02L412.3 385.89M379.4 445.22L412.3 455.51M379.4 454.15L412.3 456.38M379.4 455.65L412.3 457.29M379.4 447.03L412.3 448.97M379.4 446.83L412.3 452.84M379.4 454.35L412.3 457.45M379.4 423.23L412.3 430.91M379.4 419.37L412.3 442.6M379.4 455.52L412.3 457.43M379.4 382.9L412.3 421.71M379.4 393.47L412.3 400.97M379.4 445.45L412.3 451.79M379.4 453.05L412.3 453.37M379.4 409.66L412.3 430.22M379.4 453.49L412.3 456.09M379.4 397.04L412.3 423.61M379.4 437.25L412.3 452.3M379.4 451.15L412.3 456.63M379.4 428.32L412.3 434.1M379.4 454.56L412.3 455.8M379.4 443.52L412.3 452.09M379.4 414.67L412.3 443.98M379.4 454.38L412.3 457.44M379.4 439.77L412.3 444.34M379.4 424.87L412.3 427.04M379.4 419.34L412.3 445.25M379.4 451.94L412.3 454.29M379.4 441.57L412.3 441.74M379.4 368.24L412.3 426.15M379.4 425.06L412.3 449.39M379.4 443.6L412.3 453.62M379.4 364.1L412.3 368.94M379.4 439.5L412.3 454.93M379.4 448.27L412.3 448.34" stroke="#b4b4b4" stroke-width="0.6" fill="none"/>
<path d="M494.5 452.51L528.2 444.41M494.5 444.63L528.2 446.16M494.5 446.74L528.2 444.92M494.5 452.47L528.2 445.97M494.5 454.04L528.2 450.14M494.5 444.72L528.2 446.23M494.5 453.79L528.2 441.37M494.5 447.01L528.2 448.33M494.5 459.17L528.2 448.97M494.5 454.62L528.2 446.59M494.5 450.57L528.2 443.83M494.5 447.06L528.2 444.19M494.5 452.76L528.2 447.12M494.5 445.33L528.2 443.61M494.5 452.72L528.2 443.33M494.5 442.82L528.2 446.28M494.5 440.79L528.2 441.16M494.5 449.52L528.2 449.31M494.5 456.23L528.2 443.45M494.5 441.53L528.2 450.3M494.5 446.22L528.2 445.68M494.5 445.47L528.2 456.12M494.5 444.52L528.2 448.32M494.5 446.71L528.2 451.37M494.5 447.51L528.2 444.63M494.5 447.26L528.2 445.66M494.5 458.87L528.2 456.34M494.5 450.99L528.2 447M494.5 455.22L528.2 446.32M494.5 447.37L528.2 458.6M494.5 450.41L528.2 455.08M494.5 458.36L528.2 456.85M494.5 453.35L528.2 455.93M494.5 455.71L528.2 458.71M494.5 450.53L528.2 452.15M494.5 447.73L528.2 448.15M494.5 454.86L528.2 442.18M494.5 459.38L528.2 451.67M494.5 454.09L528.2 451.58M494.5 457.2L528.2 443.55M494.5 452.27L528.2 458.71M494.5 447.7L528.2 457.59M494.5 449L528.2 452.93M494.5 448.32L528.2 441.13M494.5 443.79L528.2 451.41M494.5 443.9L528.2 447.15M494.5 374.37L528.2 439.46M494.5 375.1L528.2 446.2M494.5 376.56L528.2 442.53M494.5 346.51L528.2 389.03M494.5 438.43L528.2 418.64M494.5 449.13L528.2 426.56M494.5 440.34L528.2 440.34M494.5 441.07L528.2 443.27" stroke="#b4b4b4" stroke-width="0.6" fill="none"/>
<path d="M397.6 349.4V344.8H513.7V355.6" fill="none" stroke="#555" stroke-width="1.2"/>
<text x="433.3" y="341.8" font-size="12.4"><tspan font-style="italic">p</tspan> &lt; .001</text>
<text x="375.5" y="364.7" font-size="12.4"><tspan font-style="italic">p</tspan> &lt; .001</text>
<text x="481.9" y="374.8" font-size="12.4"><tspan font-style="italic">p</tspan> = .436</text>
<rect x="567.2" y="374.6" width="14.4" height="14.1" fill="#fff" stroke="#438f70" stroke-width="1.6" />
<rect x="588.5" y="374.6" width="14.1" height="14.1" fill="#fff" stroke="#9d8dd6" stroke-width="1.6" />
<rect x="566.4" y="398.2" width="16" height="16.4" fill="#438f70"/>
<rect x="587.7" y="398.2" width="15.7" height="16.4" fill="#8b76c0"/>
<text x="612.8" y="385.4" font-size="13.6" text-anchor="start" font-weight="normal" fill="#000" textLength="44.6" lengthAdjust="spacingAndGlyphs" >Neutral</text>
<text x="612.8" y="410.5" font-size="13.6" text-anchor="start" font-weight="normal" fill="#000" textLength="67.6" lengthAdjust="spacingAndGlyphs" >Informative</text>
<line x1="59.5" y1="504.97" x2="59.5" y2="637.7" stroke="#8c8c8c" stroke-width="0.9" />
<line x1="55.1" y1="637.7" x2="59.5" y2="637.7" stroke="#a8a8a8" stroke-width="1" />
<text x="52.2" y="641.6" font-size="10.8" text-anchor="end" font-weight="normal" fill="#111" >30</text>
<line x1="55.1" y1="618.81" x2="59.5" y2="618.81" stroke="#a8a8a8" stroke-width="1" />
<text x="52.2" y="622.71" font-size="10.8" text-anchor="end" font-weight="normal" fill="#111" >40</text>
<line x1="55.1" y1="599.92" x2="59.5" y2="599.92" stroke="#a8a8a8" stroke-width="1" />
<text x="52.2" y="603.82" font-size="10.8" text-anchor="end" font-weight="normal" fill="#111" >50</text>
<line x1="55.1" y1="581.03" x2="59.5" y2="581.03" stroke="#a8a8a8" stroke-width="1" />
<text x="52.2" y="584.93" font-size="10.8" text-anchor="end" font-weight="normal" fill="#111" >60</text>
<line x1="55.1" y1="562.14" x2="59.5" y2="562.14" stroke="#a8a8a8" stroke-width="1" />
<text x="52.2" y="566.04" font-size="10.8" text-anchor="end" font-weight="normal" fill="#111" >70</text>
<line x1="55.1" y1="543.25" x2="59.5" y2="543.25" stroke="#a8a8a8" stroke-width="1" />
<text x="52.2" y="547.15" font-size="10.8" text-anchor="end" font-weight="normal" fill="#111" >80</text>
<line x1="55.1" y1="524.36" x2="59.5" y2="524.36" stroke="#a8a8a8" stroke-width="1" />
<text x="52.2" y="528.26" font-size="10.8" text-anchor="end" font-weight="normal" fill="#111" >90</text>
<line x1="55.1" y1="505.47" x2="59.5" y2="505.47" stroke="#a8a8a8" stroke-width="1" />
<text x="52.2" y="509.37" font-size="10.8" text-anchor="end" font-weight="normal" fill="#111" >100</text>
<text transform="translate(30.8 605.8) rotate(-90)" font-size="11.5">Accuracy (%)</text>
<line x1="59.6" y1="637.8" x2="290.3" y2="637.8" stroke="#aaa" stroke-width="1.6" />
<line x1="117.6" y1="637.8" x2="117.6" y2="641.8" stroke="#9a9a9a" stroke-width="1" />
<line x1="232.6" y1="637.8" x2="232.6" y2="641.8" stroke="#9a9a9a" stroke-width="1" />
<text x="117.4" y="654.6" font-size="10" text-anchor="middle" font-weight="normal" fill="#000" >WM</text>
<text x="232" y="655.2" font-size="10" text-anchor="middle" font-weight="normal" fill="#000" >LTM</text>
<rect x="87.9" y="594.94" width="26.1" height="42.36" fill="#fff" stroke="#93c4b0" stroke-width="1" />
<rect x="120.9" y="588.14" width="25.7" height="49.16" fill="url(#hg)" stroke="#6fb096" stroke-width="1" />
<rect x="202.9" y="568.31" width="26.1" height="68.99" fill="#fff" stroke="#bdb3e3" stroke-width="1" />
<rect x="235.9" y="561.88" width="25.7" height="75.42" fill="url(#hp)" stroke="#ab9fe0" stroke-width="1" />
<path d="M100.5 562.91L133.6 584.45M100.5 595.46L133.6 558.86M100.5 623.31L133.6 617.99M100.5 567.94L133.6 539.28M100.5 567.53L133.6 572M100.5 540.89L133.6 547.52M100.5 549.51L133.6 548.11M100.5 559.72L133.6 562.79M100.5 597.81L133.6 568.5M100.5 540.16L133.6 559.12M100.5 537.28L133.6 573.57M100.5 536.3L133.6 528.14M100.5 593.29L133.6 572.8M100.5 570.26L133.6 547.71M100.5 579.45L133.6 602.65M100.5 560.13L133.6 554.88M100.5 538.43L133.6 560.63M100.5 532.53L133.6 589.17M100.5 588.83L133.6 532.17M100.5 561.22L133.6 614.61M100.5 585.56L133.6 559.59M100.5 595.6L133.6 623.38M100.5 532.61L133.6 528.14M100.5 589.67L133.6 554.4M100.5 547.64L133.6 534.69M100.5 596.86L133.6 596.77M100.5 577.41L133.6 528.14M100.5 532.02L133.6 583.16M100.5 594.69L133.6 594.26M100.5 572.18L133.6 570.04M100.5 589.3L133.6 528.14M100.5 534.73L133.6 528.14M100.5 574.23L133.6 603.11M100.5 559.41L133.6 543.79M100.5 557.75L133.6 528.14M100.5 550.94L133.6 557.43M100.5 579.44L133.6 536.51M100.5 599.14L133.6 597.63M100.5 560.48L133.6 528.14M100.5 595.83L133.6 583.97M100.5 568.21L133.6 573.72M100.5 549.73L133.6 568.57M100.5 635.78L133.6 636.76M100.5 568.89L133.6 631.74" stroke="#bcbcbc" stroke-width="0.55" fill="none"/>
<path d="M216.2 565.76L249.2 574.37M216.2 542.86L249.2 519.16M216.2 561.02L249.2 553.73M216.2 531.26L249.2 530.95M216.2 573.87L249.2 560.97M216.2 556.19L249.2 568.19M216.2 583.9L249.2 587.89M216.2 555.92L249.2 528.06M216.2 578.29L249.2 591.74M216.2 554.87L249.2 515.66M216.2 582.31L249.2 592.8M216.2 522.67L249.2 519.44M216.2 569.21L249.2 549.45M216.2 563.67L249.2 592.72M216.2 568.1L249.2 555.95M216.2 557.71L249.2 571.53M216.2 558.33L249.2 538.38M216.2 597.96L249.2 598.91M216.2 510.34L249.2 563.25M216.2 573.9L249.2 541.52M216.2 522.82L249.2 533.03M216.2 564.02L249.2 584.93M216.2 586.71L249.2 598.75M216.2 588.62L249.2 593.7M216.2 534.71L249.2 509.25M216.2 544.41L249.2 563.92M216.2 604.32L249.2 587.37M216.2 548.73L249.2 522.62M216.2 514.31L249.2 526.3M216.2 520.75L249.2 529.98M216.2 527.34L249.2 531.39M216.2 524.47L249.2 509.25M216.2 526.56L249.2 509.25M216.2 591.74L249.2 607.93M216.2 520.67L249.2 509.25M216.2 548.54L249.2 535.62M216.2 553.06L249.2 546.37M216.2 624.18L249.2 619.33M216.2 586.68L249.2 528.99M216.2 612.13L249.2 613.93M216.2 566.22L249.2 582.47M216.2 562.37L249.2 525.26M216.2 565.04L249.2 534.62M216.2 560.76L249.2 530.71" stroke="#bcbcbc" stroke-width="0.55" fill="none"/>
<line x1="100.5" y1="591.94" x2="100.5" y2="596.94" stroke="#333" stroke-width="0.9" />
<line x1="133.6" y1="585.14" x2="133.6" y2="590.14" stroke="#333" stroke-width="0.9" />
<line x1="216.2" y1="565.31" x2="216.2" y2="570.31" stroke="#333" stroke-width="0.9" />
<line x1="249.2" y1="558.88" x2="249.2" y2="563.88" stroke="#333" stroke-width="0.9" />
<path d="M116.5 518V507H233V511.7" fill="none" stroke="#555" stroke-width="1.2"/>
<text x="152.4" y="501.9" font-size="12.4"><tspan font-style="italic">p</tspan> &lt; .001</text>
<text x="94.2" y="532.3" font-size="12.4"><tspan font-style="italic">p</tspan> = .034</text>
<text x="209.8" y="524.1" font-size="12.4"><tspan font-style="italic">p</tspan> = .035</text>
<line x1="338.7" y1="504.74" x2="338.7" y2="638" stroke="#8c8c8c" stroke-width="0.9" />
<line x1="334.3" y1="623.32" x2="338.7" y2="623.32" stroke="#a8a8a8" stroke-width="1" />
<text x="331.4" y="627.22" font-size="10.8" text-anchor="end" font-weight="normal" fill="#111" >-20</text>
<line x1="334.3" y1="593.8" x2="338.7" y2="593.8" stroke="#a8a8a8" stroke-width="1" />
<text x="331.4" y="597.7" font-size="10.8" text-anchor="end" font-weight="normal" fill="#111" >0</text>
<line x1="334.3" y1="564.28" x2="338.7" y2="564.28" stroke="#a8a8a8" stroke-width="1" />
<text x="331.4" y="568.18" font-size="10.8" text-anchor="end" font-weight="normal" fill="#111" >20</text>
<line x1="334.3" y1="534.76" x2="338.7" y2="534.76" stroke="#a8a8a8" stroke-width="1" />
<text x="331.4" y="538.66" font-size="10.8" text-anchor="end" font-weight="normal" fill="#111" >40</text>
<line x1="334.3" y1="505.24" x2="338.7" y2="505.24" stroke="#a8a8a8" stroke-width="1" />
<text x="331.4" y="509.14" font-size="10.8" text-anchor="end" font-weight="normal" fill="#111" >60</text>
<text transform="translate(310.8 624.2) rotate(-90)" font-size="11.5">Accuracy benefit (%)</text>
<line x1="338.9" y1="637.6" x2="569.7" y2="637.6" stroke="#aaa" stroke-width="1.6" />
<line x1="395.8" y1="637.6" x2="395.8" y2="641.6" stroke="#9a9a9a" stroke-width="1" />
<line x1="511.4" y1="637.6" x2="511.4" y2="641.6" stroke="#9a9a9a" stroke-width="1" />
<text x="395.7" y="654.9" font-size="10" text-anchor="middle" font-weight="normal" fill="#000" >WM</text>
<text x="511.2" y="655" font-size="10" text-anchor="middle" font-weight="normal" fill="#000" >LTM</text>
<line x1="339" y1="593.5" x2="569.6" y2="593.5" stroke="#999" stroke-width="1.2" stroke-dasharray="4.5 3.5"/>
<path d="M453.6 515.1C453.3 515.67 452.63 517.3 451.8 518.5C450.97 519.7 449.35 521.17 448.6 522.3C447.85 523.43 447.23 524.32 447.3 525.3C447.37 526.28 448.15 527.32 449 528.2C449.85 529.08 451.65 529.63 452.4 530.6C453.15 531.57 453.3 531.18 453.5 534C453.7 536.82 454.1 544.67 453.6 547.5C453.1 550.33 451.53 549.78 450.5 551C449.47 552.22 447.78 553.55 447.4 554.8C447.02 556.05 448.35 557.3 448.2 558.5C448.05 559.7 447.5 560.98 446.5 562C445.5 563.02 444.28 563.73 442.2 564.6C440.12 565.47 436.72 566.42 434 567.2C431.28 567.98 428.95 568.57 425.9 569.3C422.85 570.03 419.28 570.55 415.7 571.6C412.12 572.65 407.82 574.15 404.4 575.6C400.98 577.05 397.72 578.8 395.2 580.3C392.68 581.8 389.98 583.23 389.3 584.6C388.62 585.97 390.02 587.33 391.1 588.5C392.18 589.67 395.25 590.42 395.8 591.6C396.35 592.78 394.48 594.1 394.4 595.6C394.32 597.1 393.8 599.17 395.3 600.6C396.8 602.03 399.33 602.92 403.4 604.2C407.47 605.48 414.6 606.95 419.7 608.3C424.8 609.65 429.9 610.97 434 612.3C438.1 613.63 441.57 614.95 444.3 616.3C447.03 617.65 448.85 619.05 450.4 620.4C451.95 621.75 453.07 623.73 453.6 624.4Z" fill="url(#hg)" stroke="#6fb096" stroke-width="0.9"/>
<path d="M453.6 540C454 540.58 455.33 542.2 456 543.5C456.67 544.8 457.52 546.38 457.6 547.8C457.68 549.22 457.13 550.63 456.5 552C455.87 553.37 454.22 554.75 453.8 556C453.38 557.25 453.55 558.45 454 559.5C454.45 560.55 454.38 561.33 456.5 562.3C458.62 563.27 463.28 564.13 466.7 565.3C470.12 566.47 474.62 567.95 477 569.3C479.38 570.65 479.62 571.9 481 573.4C482.38 574.9 482.23 576.93 485.3 578.3C488.37 579.67 495 580.55 499.4 581.6C503.8 582.65 508.63 583.67 511.7 584.6C514.77 585.53 518.48 586.28 517.8 587.2C517.12 588.12 512.02 589.15 507.6 590.1C503.18 591.05 495.02 591.6 491.3 592.9C487.58 594.2 486.67 596.22 485.3 597.9C483.93 599.58 484.83 601.3 483.1 603C481.37 604.7 477.28 606.4 474.9 608.1C472.52 609.8 470.83 611.5 468.8 613.2C466.77 614.9 464.75 616.6 462.7 618.3C460.65 620 458.02 621.7 456.5 623.4C454.98 625.1 454.08 627.65 453.6 628.5Z" fill="url(#hp)" stroke="#ab9fe0" stroke-width="0.9"/>
<path d="M421.3 585.6L422.8 588L421.3 590.4L419.8 588Z" fill="#fff" stroke="#222" stroke-width="0.8"/>
<path d="M486.4 586.9L487.9 589.3L486.4 591.7L484.9 589.3Z" fill="#fff" stroke="#222" stroke-width="0.8"/>
<rect x="567.3" y="548.2" width="14.2" height="13.8" fill="#fff" stroke="#438f70" stroke-width="1.6" />
<rect x="588.4" y="548.2" width="14.3" height="13.8" fill="#fff" stroke="#9d8dd6" stroke-width="1.6" />
<rect x="567.3" y="573.1" width="14.2" height="13.7" fill="url(#hg)" stroke="#438f70" stroke-width="1.6" />
<rect x="588.4" y="573.1" width="14.3" height="13.7" fill="url(#hp)" stroke="#9d8dd6" stroke-width="1.6" />
<text x="612.7" y="558.6" font-size="13.6" text-anchor="start" font-weight="normal" fill="#000" textLength="44.6" lengthAdjust="spacingAndGlyphs" >Neutral</text>
<text x="612.7" y="583.3" font-size="13.6" text-anchor="start" font-weight="normal" fill="#000" textLength="57.2" lengthAdjust="spacingAndGlyphs" >Matching</text>
</svg></body></html>
